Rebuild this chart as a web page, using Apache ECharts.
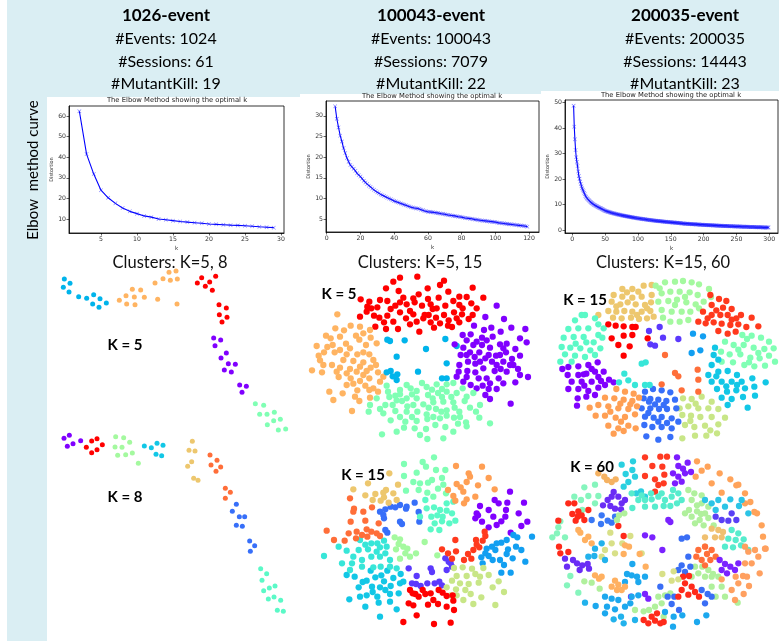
<!DOCTYPE html>
<html><head><meta charset="utf-8">
<script src="https://cdn.jsdelivr.net/npm/echarts@6/dist/echarts.min.js"></script>
<style>html,body{margin:0;padding:0;background:#fff}#c{width:779px;height:641px}</style>
</head><body><div id="c"></div><script>
// ---------- header texts ----------
const datasetNames = ['1026-event', '100043-event', '200035-event'];
const numEvents = [1024, 100043, 200035];
const numSessions = [61, 7079, 14443];
const numMutantKill = [19, 22, 23];
const clusterTitles = ['Clusters: K=5, 8', 'Clusters: K=5, 15', 'Clusters: K=15, 60'];
const kLabels = ['K = 5', 'K = 8', 'K = 5', 'K = 15', 'K = 15', 'K = 60'];

// ---------- elbow curves (distortion per k) ----------
const elbow1Start = 2;
const elbow1 = [62.3,41.5,31.8,24.0,20.3,17.6,15.3,13.7,12.6,11.5,10.9,10.0,9.6,9.2,8.8,8.5,8.2,7.9,7.6,7.4,7.2,7.0,6.9,6.7,6.5,6.2,6.0,5.8];
const elbow2Start = 5;
const elbow2 = [32.3,29.3,27.2,25.2,23.8,22.2,21.0,19.8,18.9,18.1,17.7,17.2,16.7,16.1,15.7,
15.3,14.8,14.3,13.9,13.5,13.1,12.8,12.4,12.1,11.8,
11.5,11.3,11.0,10.8,10.6,10.4,10.2,10.0,9.8,9.6,
9.4,9.3,9.1,9.0,8.8,8.7,8.5,8.4,8.2,8.1,
7.9,7.8,7.7,7.6,7.6,7.5,7.3,7.2,7.0,6.9,
6.8,6.8,6.7,6.7,6.6,6.5,6.5,6.4,6.3,6.3,
6.2,6.1,6.0,6.0,5.9,5.8,5.8,5.7,5.6,5.6,
5.5,5.4,5.3,5.3,5.2,5.1,5.1,5.0,4.9,4.9,
4.8,4.7,4.7,4.6,4.6,4.5,4.5,4.4,4.4,4.3,
4.3,4.2,4.1,4.1,4.0,4.0,3.9,3.9,3.8,3.8,
3.7,3.7,3.6,3.6,3.5,3.5,3.4,3.4,3.3,3.2];
const elbow3Start = 2;
const elbow3 = [48.8,40.6,35.6,31.4,28.6,26.8,25.1,23.0,21.2,20.1,
19.0,18.1,17.2,16.4,15.8,15.2,14.6,14.0,13.4,13.0,
12.6,12.3,12.0,11.8,11.5,11.2,11.0,10.7,10.5,10.3,
10.1,9.9,9.8,9.6,9.5,9.3,9.2,9.0,8.9,8.7,
8.6,8.5,8.4,8.2,8.1,8.0,7.9,7.7,7.6,7.5,
7.4,7.3,7.2,7.2,7.1,7.0,6.9,6.8,6.7,6.7,
6.6,6.5,6.5,6.4,6.3,6.3,6.2,6.1,6.1,6.0,
6.0,5.9,5.9,5.8,5.7,5.7,5.6,5.6,5.5,5.5,
5.4,5.4,5.3,5.3,5.2,5.2,5.1,5.1,5.0,5.0,
4.9,4.9,4.8,4.8,4.8,4.7,4.7,4.6,4.6,4.5,
4.5,4.5,4.4,4.4,4.3,4.3,4.3,4.2,4.2,4.2,
4.1,4.1,4.0,4.0,4.0,3.9,3.9,3.9,3.8,3.8,
3.8,3.7,3.7,3.7,3.6,3.6,3.6,3.5,3.5,3.5,
3.5,3.4,3.4,3.4,3.4,3.3,3.3,3.3,3.2,3.2,
3.2,3.2,3.1,3.1,3.1,3.1,3.0,3.0,3.0,3.0,
2.9,2.9,2.9,2.9,2.9,2.8,2.8,2.8,2.8,2.7,
2.7,2.7,2.7,2.7,2.6,2.6,2.6,2.6,2.6,2.5,
2.5,2.5,2.5,2.5,2.5,2.4,2.4,2.4,2.4,2.4,
2.3,2.3,2.3,2.3,2.3,2.3,2.2,2.2,2.2,2.2,
2.2,2.2,2.1,2.1,2.1,2.1,2.1,2.1,2.0,2.0,
2.0,2.0,2.0,2.0,2.0,1.9,1.9,1.9,1.9,1.9,
1.9,1.9,1.8,1.8,1.8,1.8,1.8,1.8,1.8,1.7,
1.7,1.7,1.7,1.7,1.7,1.7,1.7,1.6,1.6,1.6,
1.6,1.6,1.6,1.6,1.6,1.6,1.5,1.5,1.5,1.5,
1.5,1.5,1.5,1.5,1.5,1.4,1.4,1.4,1.4,1.4,
1.4,1.4,1.4,1.4,1.4,1.3,1.3,1.3,1.3,1.3,
1.3,1.3,1.3,1.3,1.3,1.3,1.2,1.2,1.2,1.2,
1.2,1.2,1.2,1.2,1.2,1.2,1.2,1.1,1.1,1.1,
1.1,1.1,1.1,1.1,1.1,1.1,1.1,1.1,1.0,1.0,
1.0,1.0,1.0,1.0,1.0,1.0,1.0,1.0];
const elbow1XTicks = [5,10,15,20,25,30], elbow1YTicks = [10,20,30,40,50,60];
const elbow2XTicks = [0,20,40,60,80,100,120], elbow2YTicks = [5,10,15,20,25,30];
const elbow3XTicks = [0,50,100,150,200,250,300], elbow3YTicks = [0,10,20,30,40,50];

// ---------- 1026-event, K = 5 (session embedding, picture units) ----------
const a5Blue = [[58,57],[75,70],[55,82],[72,96],[101,110],[125,115],[146,104],[165,116],[143,132],[162,142],[184,129]];
const a5Orange = [[243,107],[262,88],[287,90],[223,121],[268,111],[298,112],[245,132],[270,134],[330,69],[354,56],[372,37],[393,33],[376,61],[397,57],[338,118],[396,132]];
const a5Red = [[470,53],[512,49],[457,69],[494,66],[481,79],[502,91],[522,134],[544,144],[523,164],[546,172],[531,186]];
const a5Purple = [[506,234],[527,240],[510,257],[544,279],[528,294],[550,311],[571,313],[538,330],[559,336],[584,375],[604,379],[591,397]];
const a5Green = [[631,431],[656,436],[644,463],[666,463],[688,457],[667,494],[686,482],[706,478],[700,510],[722,507]];
// ---------- 1026-event, K = 8 ----------
const a8Purple = [[57,40],[73,31],[67,64],[84,56],[107,47]];
const a8Red = [[140,48],[156,41],[124,67],[156,74],[140,83],[172,59]];
const a8LGreen = [[212,35],[236,38],[254,52],[210,66],[231,67],[218,91],[242,89],[262,84],[280,115]];
const a8Cyan = [[298,63],[319,68],[336,55],[354,61],[333,88],[350,92]];
const a8Tan = [[442,49],[432,76],[450,78],[440,110],[428,124],[446,160],[459,166]];
const a8Orange = [[495,90],[516,106],[498,120],[527,126],[513,139],[541,190],[556,202],[541,220]];
const a8Blue = [[574,238],[562,259],[583,275],[599,275],[574,301],[592,304],[614,348],[629,362],[616,379]];
const a8Teal = [[647,431],[665,446],[651,466],[656,497],[673,489],[690,483],[670,522],[687,516],[707,526],[697,556],[715,559]];

// ---------- 100043-event, K = 5 ----------
const b5Red = [[300,38],[352,35],[432,47],[258,70],[296,78],[383,70],[445,80],[518,68],[182,103],[208,110],[202,125],[262,108],[300,112],[340,100],[344,112],[384,102],[416,98],[478,95],[550,98],[232,127],[272,132],[320,118],[330,138],[366,122],[398,132],[436,122],[488,130],[514,115],[180,155],[222,152],[238,158],[300,142],[340,148],[374,150],[408,158],[432,150],[462,142],[486,148],[518,150],[226,185],[258,192],[294,192],[330,178],[358,200],[402,188],[444,182],[446,166],[478,172],[506,162],[370,160],[410,130],[262,152],[318,160],[456,186],
[280,50],[420,60],[478,120],[240,105],[286,122],[356,88],[392,118],[460,108],[200,140],[252,172],[350,170],[392,172],[420,175],[470,160],[530,130],[310,98],[214,130],[280,170],[386,150],[500,96]];
const b5Orange = [[112,148],[152,182],[106,190],[180,185],[210,195],[78,212],[120,215],[168,212],[212,218],[50,243],[98,240],[138,236],[178,224],[198,240],[230,235],[72,262],[104,262],[140,268],[172,268],[208,268],[96,300],[130,285],[160,288],[190,292],[36,316],[66,322],[120,308],[150,312],[170,320],[212,308],[234,322],[116,336],[152,340],[190,330],[208,340],[240,350],[160,356],[196,362],[220,370],[88,380],[128,385],[172,376],[208,375],[234,380],[100,405],[178,408],[210,398],[156,438],[60,286],[180,348],[228,300],[82,246],
[132,196],[190,205],[56,272],[150,250],[190,262],[220,285],[110,320],[140,325],[180,305],[200,318],[250,335],[140,360],[70,300],[120,255],[165,395],[92,220]];
const b5Blue = [[262,224],[270,228],[314,226],[378,252],[290,275],[436,222],[440,295],[260,322],[272,318],[292,328],[290,345],[354,320],[426,340],[440,340],[470,243],[278,334]];
const b5Purple = [[590,122],[556,156],[612,162],[522,182],[552,195],[574,188],[634,188],[676,192],[602,200],[488,210],[512,208],[546,218],[578,215],[464,238],[490,248],[520,240],[546,240],[570,248],[600,238],[646,252],[680,232],[482,270],[510,262],[538,262],[566,270],[588,272],[618,262],[504,290],[540,290],[576,290],[610,290],[636,282],[660,272],[476,320],[502,318],[526,322],[550,310],[584,318],[602,312],[630,300],[654,312],[470,335],[500,336],[536,340],[560,340],[596,340],[684,336],[512,360],[548,362],[566,372],[646,352],[590,372],[556,390],[570,402],[632,416],[526,296],[600,270],
[530,230],[500,226],[560,226],[620,236],[640,300],[500,270],[524,276],[556,280],[590,300],[620,320],[490,350],[530,370],[570,355],[610,355],[660,330],[478,300],[610,250],[660,220]];
const b5Green = [[260,362],[300,375],[332,370],[350,378],[380,366],[410,358],[440,358],[460,354],[488,370],[230,400],[268,396],[300,388],[320,400],[350,400],[384,390],[414,384],[440,380],[470,384],[520,384],[210,420],[240,432],[278,420],[306,408],[340,420],[370,418],[400,412],[430,410],[460,412],[494,408],[540,420],[206,440],[250,445],[286,438],[320,440],[352,440],[380,448],[408,432],[440,436],[478,440],[510,428],[272,466],[316,470],[350,468],[382,462],[420,460],[462,458],[498,472],[538,458],[570,475],[246,508],[312,488],[344,490],[378,492],[406,480],[436,486],[474,476],[500,484],[382,522],[430,520],[290,406],[426,396],[264,380],
[320,360],[366,354],[396,374],[426,372],[286,392],[336,388],[398,400],[454,396],[500,395],[256,420],[322,424],[386,428],[424,440],[464,428],[300,456],[336,456],[400,456],[440,452],[480,456],[360,510],[290,500],[460,500],[528,440]];

// ---------- 100043-event, K = 15 ----------
const b15Purple = [[630,125],[584,150],[596,160],[622,158],[672,158],[540,168],[566,180],[530,190],[526,205],[618,180],[656,190],[682,215],[616,200],[590,225],[566,232],[632,248],[664,228],[604,214],[534,196],[546,215],[580,200]];
const b15Indigo = [[326,355],[350,378],[392,355],[436,325],[452,340],[456,350],[440,360],[336,400],[362,408],[382,400],[404,400],[426,406],[418,395],[446,335],[396,366],[348,402]];
const b15Royal = [[240,185],[256,178],[272,170],[300,165],[320,170],[344,158],[318,176],[252,205],[256,240],[300,215],[306,222],[356,186],[358,215],[250,195],[286,172],[262,248]];
const b15Sky = [[640,255],[696,260],[620,270],[604,278],[576,290],[586,300],[624,298],[648,290],[664,300],[556,310],[578,330],[600,330],[638,325],[676,335],[548,340],[604,368],[632,368],[544,322],[560,296],[652,262],[590,280],[620,312],[566,318],[612,345]];
const b15Cyan = [[140,375],[164,380],[200,392],[226,382],[244,376],[280,384],[302,372],[176,412],[216,410],[240,412],[272,408],[300,400],[200,436],[232,440],[270,432],[296,430],[148,448],[236,458],[270,455],[196,470],[240,500],[290,478],[212,362],[262,362],[310,395],[188,396],[252,394],[218,426],[256,420],[180,440]];
const b15Turq = [[180,270],[214,280],[232,280],[252,272],[140,302],[176,300],[204,298],[240,292],[260,290],[126,340],[156,340],[186,330],[214,320],[240,320],[270,330],[72,318],[150,360],[186,350],[220,352],[242,350],[270,350],[290,355],[116,290],[196,284],[160,320],[230,305],[256,310]];
const b15Aqua = [[380,175],[402,172],[420,180],[440,160],[460,155],[360,200],[394,200],[428,200],[456,190],[404,220],[426,214],[448,220],[392,238],[418,240],[376,150],[466,212],[412,196],[440,182]];
const b15Mint = [[312,42],[368,36],[402,22],[350,68],[408,60],[436,60],[378,50],[312,78],[384,98],[340,96],[414,116],[438,130],[356,120],[318,122],[382,128],[426,84],[396,90],[360,100],[400,140],[430,104]];
const b15LGreen = [[284,262],[300,268],[310,290],[288,298],[316,310],[330,320],[300,326],[348,310],[374,276],[412,316],[296,282],[322,296]];
const b15YGreen = [[462,354],[488,352],[516,356],[550,354],[470,378],[500,378],[526,372],[566,375],[456,392],[480,400],[506,402],[536,398],[596,394],[440,412],[468,418],[496,420],[578,412],[612,426],[490,450],[520,462],[544,442],[586,465],[452,436],[540,380],[470,436],[512,432]];
const b15Tan = [[160,118],[204,100],[258,120],[294,104],[268,70],[196,136],[226,132],[252,142],[280,130],[242,152],[266,158],[290,150],[250,128],[218,150]];
const b15Orange = [[468,48],[546,50],[506,70],[566,84],[500,96],[470,102],[534,106],[444,120],[490,125],[460,138],[500,148],[526,140],[584,118],[466,152],[492,160],[510,80],[482,112]];
const b15OrRed = [[150,145],[162,176],[190,185],[216,172],[152,215],[196,212],[236,220],[80,242],[146,250],[170,245],[200,238],[230,250],[102,270],[134,272],[168,265],[202,260],[240,258],[160,185],[214,245],[186,255]];
const b15RedOr = [[466,270],[528,270],[556,258],[426,298],[444,310],[468,304],[492,330],[514,326],[520,300],[538,292],[548,272],[456,326],[554,245],[530,284],[504,312]];
const b15Red = [[330,420],[346,432],[368,420],[392,430],[416,420],[440,438],[458,436],[326,460],[340,466],[384,464],[414,462],[440,470],[460,452],[350,496],[462,480],[310,516],[402,522],[452,518],[356,440],[400,450],[338,430],[376,432],[428,428]];

// ---------- 200035-event, K = 15 ----------
const c15Tan = [[232,72],[262,72],[206,90],[232,95],[262,98],[290,95],[320,90],[200,110],[226,118],[248,112],[272,118],[300,120],[318,112],[190,138],[214,140],[238,138],[262,140],[290,140],[316,138],[204,158],[230,160],[258,158],[282,162],[306,160],[326,155],[160,150],[296,62],[320,60],[246,82],[280,80],[214,124],[306,130],[276,150]];
const c15LGreen = [[332,62],[360,52],[390,50],[414,48],[440,52],[462,58],[492,72],[350,85],[376,80],[404,80],[434,82],[458,90],[340,110],[370,108],[396,104],[424,112],[452,118],[476,110],[350,135],[380,140],[410,140],[436,140],[462,130],[376,170],[404,170],[430,165],[354,158],[498,96],[390,120],[420,96],[344,70]];
const c15RedOr = [[496,90],[522,102],[544,108],[500,120],[534,128],[560,132],[588,150],[474,140],[500,150],[526,150],[548,150],[574,160],[460,170],[482,175],[506,172],[530,176],[556,180],[580,178],[520,198],[548,206],[572,200],[604,186],[620,158],[640,184],[514,136],[560,164],[488,160]];
const c15Mint = [[592,210],[620,212],[648,218],[672,230],[540,230],[566,240],[596,240],[626,248],[658,252],[686,250],[528,260],[554,268],[586,268],[616,278],[644,280],[672,272],[530,290],[564,292],[598,300],[628,304],[660,302],[690,290],[606,222],[580,254],[640,264],[612,292]];
const c15Cyan = [[510,248],[506,270],[500,300],[490,330],[520,320],[548,318],[576,330],[500,350],[530,350],[560,350],[590,350],[622,340],[516,372],[546,380],[574,376],[600,370],[628,365],[662,352],[530,398],[560,402],[594,396],[630,392],[608,428],[548,420],[514,334],[544,364],[576,360],[520,284]];
const c15YGreen = [[414,400],[440,402],[470,395],[500,410],[430,424],[460,430],[490,430],[520,432],[412,450],[438,452],[466,456],[500,456],[540,458],[420,480],[448,486],[480,482],[520,478],[412,520],[450,512],[484,512],[516,505],[404,430],[452,416],[436,468],[496,496]];
const c15Royal = [[300,380],[324,372],[350,376],[376,382],[296,400],[316,402],[340,404],[364,408],[390,404],[290,430],[316,430],[342,432],[366,432],[394,430],[300,455],[326,458],[350,456],[380,460],[298,480],[322,486],[350,486],[380,490],[304,514],[340,524],[376,516],[400,470],[312,410],[330,418],[356,420],[310,444],[340,470],[366,474]];
const c15Orange = [[214,372],[240,380],[266,386],[180,398],[208,400],[236,404],[262,408],[282,398],[160,420],[190,424],[220,430],[250,432],[276,424],[152,452],[180,452],[212,458],[240,456],[270,448],[190,482],[220,490],[250,482],[206,506],[236,498],[272,490],[134,428],[226,416],[256,418],[196,440],[228,470]];
const c15Purple = [[52,312],[70,306],[100,304],[130,300],[158,292],[68,330],[100,330],[124,326],[150,320],[176,320],[80,350],[110,350],[140,350],[168,348],[192,344],[206,352],[70,372],[100,372],[130,378],[160,368],[180,360],[98,400],[124,395],[150,390],[96,422],[116,328],[140,312],[160,336],[118,362]];
const c15Aqua = [[90,166],[120,150],[150,160],[176,190],[70,192],[100,190],[130,190],[160,210],[56,218],[86,216],[116,216],[146,232],[172,218],[50,246],[76,248],[106,250],[136,256],[166,250],[60,268],[90,272],[120,276],[150,270],[46,290],[80,290],[110,150],[160,178],[124,232],[92,236]];
const c15Red = [[190,178],[212,182],[236,184],[262,186],[272,186],[200,220],[236,212],[262,210],[220,240],[254,244],[236,272],[308,220]];
const c15Indigo = [[312,198],[344,186],[354,218],[400,222],[316,238],[330,242]];
const c15Sky = [[444,206],[474,214],[440,264],[466,256]];
const c15Turq = [[290,296],[302,292],[222,352],[250,346],[270,360],[300,360],[314,360],[238,326]];
const c15OrRed = [[360,270],[390,324],[400,334],[458,314],[460,344],[410,376],[460,380],[350,358]];

// ---------- 200035-event, K = 60 ----------
const c60RedTop = [[300,22],[322,48],[346,20],[366,20],[352,50],[356,100],[340,105],[330,125],[300,78],[358,74],[330,88]];
const c60PurpleTop = [[396,22],[428,38],[400,48],[384,70],[400,80],[420,70],[438,66],[390,100],[410,95],[414,56]];
const c60OrangeTop = [[456,34],[470,62],[488,50],[452,80],[524,70],[556,88],[580,104],[500,100],[530,128],[600,160],[636,190],[650,226],[574,106],[600,130],[616,156],[628,186],[654,260],[662,296]];
const c60CyanTL = [[230,44],[264,34],[262,60],[242,72],[270,80],[236,110],[288,124],[300,140],[274,130],[250,96]];
const c60MintL = [[118,112],[150,104],[160,138],[130,138],[108,150],[150,160],[88,140],[112,180],[60,262],[22,262],[40,232],[46,214],[36,250],[76,378],[66,406],[100,428]];
const c60TanTL = [[178,80],[186,90],[200,96],[212,88],[160,70]];
const c60PurpleL = [[206,126],[220,140],[188,150],[174,166],[196,168],[230,160],[240,150],[210,176],[228,178],[60,326],[96,340],[112,346],[128,342],[132,356],[104,360],[66,350],[84,330],[200,140]];
const c60BlueL = [[170,196],[188,212],[168,222],[200,218],[210,200],[140,210]];
const c60RedL = [[70,160],[88,160],[82,192],[98,200],[92,212],[110,196],[130,180],[118,210],[40,212],[42,290],[70,306],[46,310],[236,258],[220,228],[100,184]];
const c60Turq = [[260,130],[280,150],[300,150],[320,148],[340,140],[360,150],[380,140],[400,130],[410,150],[300,170],[330,170],[356,168],[376,168],[396,160],[262,174],[318,130],[384,120],[560,240],[580,250],[550,266],[572,270],[596,268],[540,290],[564,292],[588,286],[610,300],[350,130],[290,136]];
const c60Green = [[430,120],[448,130],[470,136],[440,150],[470,160],[490,170],[432,180],[456,184],[480,190],[440,200],[464,210],[490,204],[450,220],[476,226],[506,226],[420,190],[450,350],[472,350],[460,370],[490,360],[480,380],[440,380],[500,380],[504,372],[520,380],[530,410],[500,410],[540,440],[578,458],[512,440],[270,480],[296,484],[312,480],[330,470],[350,460],[356,500],[340,440],[376,430],[360,436],[222,196],[238,190],[216,210],[118,394],[140,398],[164,416],[456,166],[468,192]];
const c60CyanR = [[480,150],[500,160],[520,150],[540,170],[512,180],[556,148],[582,168],[610,190],[590,150]];
const c60Indigo = [[512,200],[530,210],[550,212],[560,190],[574,210]];
const c60Tan = [[500,236],[520,240],[534,246],[480,262],[510,262],[530,262],[480,290]];
const c60OrRed = [[460,300],[480,290],[500,300],[512,320],[470,330],[496,330],[480,346],[454,320],[486,312]];
const c60PurpleR = [[524,330],[540,342],[556,350],[530,360],[546,370],[570,360],[580,340],[300,256],[322,262],[352,300],[370,210],[376,216],[258,440],[300,432],[310,446]];
const c60OrangeR = [[600,290],[610,305],[630,300],[620,340],[600,340],[660,296],[640,320],[572,380],[594,378],[606,380],[580,400],[612,408],[596,432],[570,450],[644,370],[530,388],[560,420]];
const c60Royal = [[470,420],[488,432],[500,440],[480,460],[430,320],[410,346],[436,350],[400,360],[420,366],[410,266],[426,262],[346,410],[368,440],[388,440],[380,462],[402,480]];
const c60SkyB = [[484,496],[456,516],[262,342],[246,372],[260,376],[276,380],[300,380],[280,396],[240,396],[180,440],[200,446],[180,490],[210,478],[260,440],[280,436],[256,460],[240,470],[220,450],[152,468],[186,470],[412,496],[386,500],[384,530],[360,486]];
const c60RedB = [[414,380],[432,378],[420,400],[440,410],[410,420],[430,434],[450,426],[462,440],[400,440],[296,510],[320,500],[336,490],[346,520],[330,512],[310,520],[356,516]];
const c60Yellow = [[386,364],[380,392],[400,388],[352,372],[290,310],[196,248],[256,258],[232,280],[200,280],[180,300],[210,310],[170,320]];
const c60Peach = [[240,286],[252,290],[236,312],[284,312],[302,350],[150,376],[170,380],[162,386],[210,392],[220,404],[240,410],[230,420],[200,410],[216,420],[106,248],[120,270],[130,260],[100,240],[140,280]];
const c60SkyL = [[150,296],[148,318],[170,280],[130,320],[180,330],[236,520],[228,500],[206,508],[270,510],[120,458]];

// ================= layout & build =================
const chart = echarts.init(document.getElementById('c'), null, {renderer: 'canvas'});
const BLUEBG = '#daeef3';
const FONT = 'Lato, "Open Sans", sans-serif';
const MPL = '"DejaVu Sans", sans-serif';

const grids = [], xAxes = [], yAxes = [], series = [];

function elbowPanel(box, xr, yr, xt, yt, start, vals) {
  const gi = grids.length;
  grids.push({left: box[0], top: box[1], width: box[2], height: box[3], show: true, borderColor: '#000', borderWidth: 0.8, backgroundColor: 'transparent'});
  const lab = {fontSize: 6.2, color: '#333', fontFamily: MPL, margin: 3};
  xAxes.push({gridIndex: gi, type: 'value', min: xr[0], max: xr[1],
    axisLine: {show: true, onZero: false, lineStyle: {color: '#000', width: 0.8}},
    axisTick: {show: true, length: 2.5, lineStyle: {color: '#000', width: 0.6}, customValues: xt},
    axisLabel: Object.assign({customValues: xt}, lab), splitLine: {show: false},
    name: 'k', nameLocation: 'middle', nameGap: 13, nameTextStyle: {fontSize: 5.5, color: '#333', fontFamily: MPL}});
  yAxes.push({gridIndex: gi, type: 'value', min: yr[0], max: yr[1],
    axisLine: {show: true, onZero: false, lineStyle: {color: '#000', width: 0.8}},
    axisTick: {show: true, length: 2.5, lineStyle: {color: '#000', width: 0.6}, customValues: yt},
    axisLabel: Object.assign({customValues: yt}, lab), splitLine: {show: false},
    name: 'Distortion', nameLocation: 'middle', nameGap: 15, nameRotate: 90, nameTextStyle: {fontSize: 5, color: '#333', fontFamily: MPL}});
  series.push({type: 'line', xAxisIndex: gi, yAxisIndex: gi, animation: false,
    data: vals.map((v, i) => [start + i, v]),
    symbol: 'path://M1,0L5,4L9,0L10,1L6,5L10,9L9,10L5,6L1,10L0,9L4,5L0,1Z', symbolSize: 4,
    lineStyle: {color: '#0000ff', width: 1.1}, itemStyle: {color: 'rgba(30,30,255,0.6)'}});
}

function scatterPanel(box, groups, size) {
  const gi = grids.length;
  grids.push({left: box[0], top: box[1], width: box[2], height: box[3]});
  xAxes.push({gridIndex: gi, type: 'value', min: 0, max: box[2] * 3, show: false});
  yAxes.push({gridIndex: gi, type: 'value', min: 0, max: box[3] * 3, inverse: true, show: false});
  groups.forEach(g => series.push({type: 'scatter', xAxisIndex: gi, yAxisIndex: gi, animation: false,
    data: g[0], symbolSize: size, itemStyle: {color: g[1], opacity: 1}, clip: false}));
}

// elbow panels
elbowPanel([69, 106, 215, 127], [0.56, 30.42], [3.2, 64.85], elbow1XTicks, elbow1YTicks, elbow1Start, elbow1);
elbowPanel([326, 101, 213, 131], [-0.42, 125.9], [1.9, 33.6], elbow2XTicks, elbow2YTicks, elbow2Start, elbow2);
elbowPanel([565, 100, 213, 133], [-11.1, 313.3], [-1.18, 51.06], elbow3XTicks, elbow3YTicks, elbow3Start, elbow3);

// cluster panels
const P = {purple:'#8000ff', indigo:'#5b39fd', royal:'#376ff9', sky:'#129ff1', cyan:'#12c7e6', turq:'#37e6d8', aqua:'#5bf9c7', mint:'#80ffb4', lgreen:'#a4f99f', ygreen:'#c8e687', tan:'#edc76e', orange:'#ff9f54', orred:'#ff6e39', redor:'#ff391d', red:'#ff0000', blue5:'#00b4eb', orange5:'#ffb462'};
scatterPanel([45, 260, 250, 180], [[a5Blue,P.blue5],[a5Orange,P.orange5],[a5Red,P.red],[a5Purple,P.purple],[a5Green,P.mint]], 5);
scatterPanel([45, 425, 250, 200], [[a8Purple,P.purple],[a8Red,P.red],[a8LGreen,P.lgreen],[a8Cyan,P.cyan],[a8Tan,P.tan],[a8Orange,P.orred],[a8Blue,P.royal],[a8Teal,P.aqua]], 5);
scatterPanel([300, 265, 240, 180], [[b5Red,P.red],[b5Orange,P.orange5],[b5Blue,P.blue5],[b5Purple,P.purple],[b5Green,P.mint]], 6.3);
scatterPanel([300, 450, 240, 185], [[b15Purple,P.purple],[b15Indigo,P.indigo],[b15Royal,P.royal],[b15Sky,P.sky],[b15Cyan,P.cyan],[b15Turq,P.turq],[b15Aqua,P.aqua],[b15Mint,P.mint],[b15LGreen,P.lgreen],[b15YGreen,P.ygreen],[b15Tan,P.tan],[b15Orange,P.orange],[b15OrRed,P.orred],[b15RedOr,P.redor],[b15Red,P.red]], 6.3);
scatterPanel([545, 265, 234, 185], [[c15Tan,P.tan],[c15LGreen,P.lgreen],[c15RedOr,P.redor],[c15Mint,P.mint],[c15Cyan,P.cyan],[c15YGreen,P.ygreen],[c15Royal,P.royal],[c15Orange,P.orange],[c15Purple,P.purple],[c15Aqua,P.aqua],[c15Red,P.red],[c15Indigo,P.indigo],[c15Sky,P.sky],[c15Turq,P.turq],[c15OrRed,P.orred]], 6.3);
scatterPanel([545, 450, 234, 185], [[c60RedTop,'#ff3a22'],[c60PurpleTop,'#7c1cff'],[c60OrangeTop,'#ffa35a'],[c60CyanTL,'#2ad0e0'],[c60MintL,'#86f5bd'],[c60TanTL,'#f5b262'],[c60PurpleL,'#6a2cf5'],[c60BlueL,'#3a78f5'],[c60RedL,'#ff2a1a'],[c60Turq,'#56eccd'],[c60Green,'#b0f09c'],[c60CyanR,'#2cc4e6'],[c60Indigo,'#5a40f5'],[c60Tan,'#f0c070'],[c60OrRed,'#ff6e3a'],[c60PurpleR,'#7a22ff'],[c60OrangeR,'#ffa060'],[c60Royal,'#3a6ef5'],[c60SkyB,'#1ca8ee'],[c60RedB,'#ff2a1a'],[c60Yellow,'#d8e088'],[c60Peach,'#ffb060'],[c60SkyL,'#22b2ec']], 6.3);

// graphics
const g = [];
g.push({type: 'rect', shape: {x: 7, y: 0, width: 772, height: 91}, style: {fill: BLUEBG}, z: -10, silent: true});
g.push({type: 'rect', shape: {x: 7, y: 90, width: 293, height: 7}, style: {fill: BLUEBG}, z: -10, silent: true});
g.push({type: 'rect', shape: {x: 299, y: 90, width: 242, height: 4}, style: {fill: BLUEBG}, z: -10, silent: true});
g.push({type: 'rect', shape: {x: 7, y: 0, width: 40, height: 641}, style: {fill: BLUEBG}, z: -10, silent: true});
const colX = [166, 431, 685];
const rowY = [16, 39, 61.5, 84];
for (let i = 0; i < 3; i++) {
  const lines = [[datasetNames[i], 'bold', 17], ['#Events: ' + numEvents[i], 'normal', 16], ['#Sessions: ' + numSessions[i], 'normal', 16], ['#MutantKill: ' + numMutantKill[i], 'normal', 16]];
  lines.forEach((l, r) => g.push({type: 'text', x: colX[i], y: rowY[r], z: 50, style: {text: l[0], fontWeight: l[1], fontSize: l[2], fontFamily: FONT, fill: '#000', textAlign: 'center', textVerticalAlign: 'middle'}}));
}
const clX = [170, 420, 663];
clusterTitles.forEach((t, i) => g.push({type: 'text', x: clX[i], y: 263, z: 50, style: {text: t, fontSize: 16.5, fontFamily: FONT, fill: '#111', textAlign: 'center', textVerticalAlign: 'middle'}}));
const kPos = [[125, 345], [125, 497], [339, 294], [363, 475], [585, 300], [592, 467]];
kLabels.forEach((t, i) => g.push({type: 'text', x: kPos[i][0], y: kPos[i][1], z: 50, style: {text: t, fontWeight: 'bold', fontSize: 15, fontFamily: FONT, fill: '#000', textAlign: 'center', textVerticalAlign: 'middle'}}));
g.push({type: 'text', x: 33, y: 170, rotation: Math.PI / 2, z: 50, style: {text: 'Elbow  method curve', fontSize: 15, fontFamily: FONT, fill: '#000', textAlign: 'center', textVerticalAlign: 'middle'}});
const elbowTitleX = [177, 432, 671], elbowTitleY = [100, 96, 95];
for (let i = 0; i < 3; i++) g.push({type: 'text', x: elbowTitleX[i], y: elbowTitleY[i], z: 50, style: {text: 'The Elbow Method showing the optimal k', fontSize: 6.8, fontFamily: MPL, fill: '#222', textAlign: 'center', textVerticalAlign: 'middle'}});

chart.setOption({animation: false, backgroundColor: '#fff', grid: grids, xAxis: xAxes, yAxis: yAxes, series: series, graphic: g});
</script></body></html>
